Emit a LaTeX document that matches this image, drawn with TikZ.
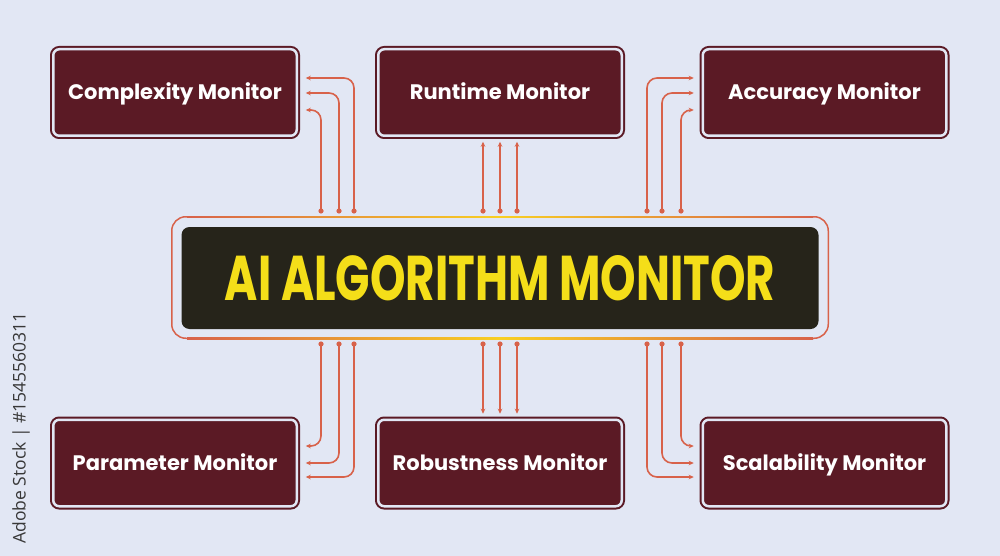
\documentclass[tikz,border=0pt]{standalone}
\usepackage{fontspec}
\usepackage{graphicx}
\setmainfont{Poppins}
\newfontfamily\sidefont{Open Sans}
\usetikzlibrary{arrows.meta,calc}
\definecolor{bg}{HTML}{E2E7F4}
\definecolor{maroon}{HTML}{5B1A25}
\definecolor{darkbox}{HTML}{26241A}
\definecolor{titleyellow}{HTML}{F4DE19}
\definecolor{lc}{HTML}{D8624A}
\definecolor{ly}{HTML}{F8CF22}
\definecolor{sidegray}{HTML}{383838}
\newcommand\vgrad[3]{\shade[top color=lc,bottom color=lc,middle color=ly] (#1-0.8,#2) rectangle (#1+0.8,#3);}
\begin{document}
\begin{tikzpicture}[x=1pt,y=-1pt,
  mbox/.style={rectangle, rounded corners=6pt, fill=maroon, draw=maroon,
    line width=2pt, double=bg, double distance=2.5pt,
    minimum width=243.5pt, minimum height=86.5pt, inner sep=0pt, outer sep=0pt,
    text=white, font=\bfseries\fontsize{21}{24}\selectfont,
    text height=14.8pt, text depth=0pt},
  conn/.style={draw=lc, line width=1.6pt, rounded corners=10pt,
    -{Stealth[length=5pt,width=4.5pt]}},
  dotc/.style={fill=lc}
]
\fill[bg] (0,0) rectangle (1000,556);
\useasboundingbox (0,0) rectangle (1000,556);

% side text
\node[rotate=90, font=\sidefont\fontsize{17.5}{20}\selectfont, text=sidegray, inner sep=0pt] (wm) at (21,428) {Adobe Stock | \#1545560311};

% central block
\node[rectangle, rounded corners=14pt, draw=lc, line width=1.5pt,
  minimum width=656.5pt, minimum height=121.5pt, inner sep=0pt] (ring) at (500,277.5) {};
\shade[left color=lc,right color=lc,middle color=ly] (187,216.75-0.75) rectangle (813,216.75+0.75);
\shade[left color=lc,right color=lc,middle color=ly] (187,338.25-0.75) rectangle (813,338.25+0.75);
\node[rectangle, rounded corners=8pt, fill=darkbox, minimum width=637pt,
  minimum height=102pt, inner sep=0pt] (core) at (500,278) {};
\node[text=titleyellow, inner sep=0pt, text depth=0pt, font=\bfseries] (title) at (500,277.5)
  {\resizebox{550pt}{45pt}{AI ALGORITHM MONITOR}};

% monitor boxes
\node[mbox] (cm) at (175,92.5) {Complexity Monitor};
\node[mbox] (rt) at (500,92.5) {Runtime Monitor};
\node[mbox] (ac) at (824.5,92.5) {Accuracy Monitor};
\node[mbox] (pm) at (175,463) {Parameter Monitor};
\node[mbox] (rb) at (500,463) {Robustness Monitor};
\node[mbox] (sc) at (824.5,463) {Scalability Monitor};

% start points
\foreach \n/\x in {1/321,2/339,3/354}{
  \coordinate (tl\n) at (\x,211);
  \coordinate (bl\n) at (\x,344);}
\foreach \n/\x in {1/681,2/662,3/647}{
  \coordinate (tr\n) at (\x,211);
  \coordinate (br\n) at (\x,344);}
\foreach \n/\x in {1/483,2/500,3/517}{
  \coordinate (tm\n) at (\x,211);
  \coordinate (bm\n) at (\x,344);}

% gradient on straight vertical parts
\vgrad{321}{211}{124}\vgrad{339}{211}{107}\vgrad{354}{211}{92}
\vgrad{681}{211}{124}\vgrad{662}{211}{107}\vgrad{647}{211}{92}
\vgrad{321}{344}{432}\vgrad{339}{344}{449}\vgrad{354}{344}{463}
\vgrad{681}{344}{432}\vgrad{662}{344}{449}\vgrad{647}{344}{463}
\vgrad{483}{211}{149}\vgrad{500}{211}{149}\vgrad{517}{211}{149}
\vgrad{483}{344}{406}\vgrad{500}{344}{406}\vgrad{517}{344}{406}

% connectors
\draw[conn] (tl1) |- ($(cm.east)+(9,17.5)$);
\draw[conn] (tl2) |- ($(cm.east)+(9,0.5)$);
\draw[conn] (tl3) |- ($(cm.east)+(9,-14.5)$);
\draw[conn] (tr1) |- ($(ac.west)+(-9,17.5)$);
\draw[conn] (tr2) |- ($(ac.west)+(-9,0.5)$);
\draw[conn] (tr3) |- ($(ac.west)+(-9,-14.5)$);
\draw[conn] (bl1) |- ($(pm.east)+(9,-17)$);
\draw[conn] (bl2) |- ($(pm.east)+(9,0)$);
\draw[conn] (bl3) |- ($(pm.east)+(9,14)$);
\draw[conn] (br1) |- ($(sc.west)+(-9,-17)$);
\draw[conn] (br2) |- ($(sc.west)+(-9,0)$);
\draw[conn] (br3) |- ($(sc.west)+(-9,14)$);
\draw[conn] (tm1) -- ($(rt.south)+(-17,6)$);
\draw[conn] (tm2) -- ($(rt.south)+(0,6)$);
\draw[conn] (tm3) -- ($(rt.south)+(17,6)$);
\draw[conn] (bm1) -- ($(rb.north)+(-17,-6)$);
\draw[conn] (bm2) -- ($(rb.north)+(0,-6)$);
\draw[conn] (bm3) -- ($(rb.north)+(17,-6)$);

% dots
\foreach \c in {tl1,tl2,tl3,tr1,tr2,tr3,bl1,bl2,bl3,br1,br2,br3,tm1,tm2,tm3,bm1,bm2,bm3}
  \fill[dotc] (\c) circle (2.6pt);
\end{tikzpicture}
\end{document}
